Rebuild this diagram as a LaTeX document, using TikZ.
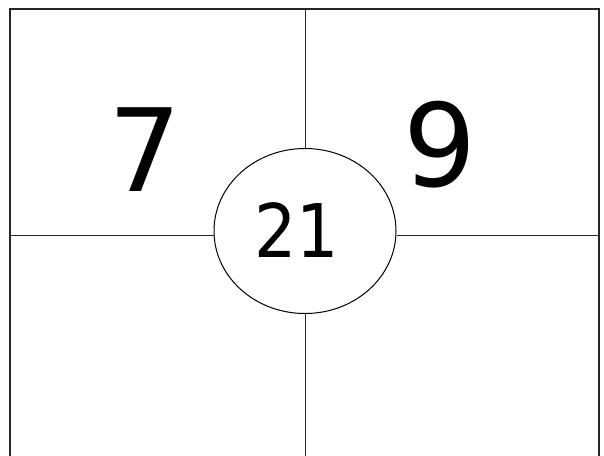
\documentclass[tikz,border=0pt]{standalone}
\usepackage{fontspec}
\setmainfont{DejaVu Sans}
\newfontfamily\narrowfont{DejaVu Sans Condensed}
\usetikzlibrary{shapes.geometric}

\begin{document}
\begin{tikzpicture}[
  x=1pt, y=-1pt,
  frameln/.style={line width=2pt, black!85},
  gridln/.style={line width=1pt, black!85},
  hub/.style={ellipse, draw, line width=1pt, fill=white, inner sep=0pt,
              minimum width=182pt, minimum height=165pt},
  bignum/.style={font=\fontsize{115}{115}\selectfont, inner sep=0pt},
  hubnum/.style={font=\narrowfont\fontsize{74}{74}\selectfont, inner sep=0pt},
]

%% ── Canvas ───────────────────────────────────────────────────────────────────
\useasboundingbox (0,0) rectangle (604,455);
\clip (0,0) rectangle (604,455);

%% ── Frame corners and edge points ────────────────────────────────────────────
\coordinate (tl) at (10,9);
\coordinate (tr) at (599,9);
\coordinate (bl) at (10,470);
\coordinate (br) at (599,470);
\coordinate (topmid) at (305,9);
\coordinate (botmid) at (305,470);
\coordinate (leftmid) at (10,235);
\coordinate (rightmid) at (599,235);

%% ── Centre ellipse ───────────────────────────────────────────────────────────
\node[hub] (centre) at (305,231) {};

%% ── Cross lines ──────────────────────────────────────────────────────────────
\draw[gridln] (topmid) -- (centre.north);
\draw[gridln] (centre.south) -- (botmid);
\draw[gridln] (leftmid) -- (centre.west |- leftmid);
\draw[gridln] (centre.east |- rightmid) -- (rightmid);

%% ── Frame ────────────────────────────────────────────────────────────────────
\draw[frameln] (bl) -- (tl) -- (tr) -- (br);

%% ── Numbers ──────────────────────────────────────────────────────────────────
\node[bignum] (seven) at (145,150) {7};
\node[bignum] (nine)  at (440,145) {9};
\node[hubnum] (sum)   at (297,230) {21};

\end{tikzpicture}
\end{document}
